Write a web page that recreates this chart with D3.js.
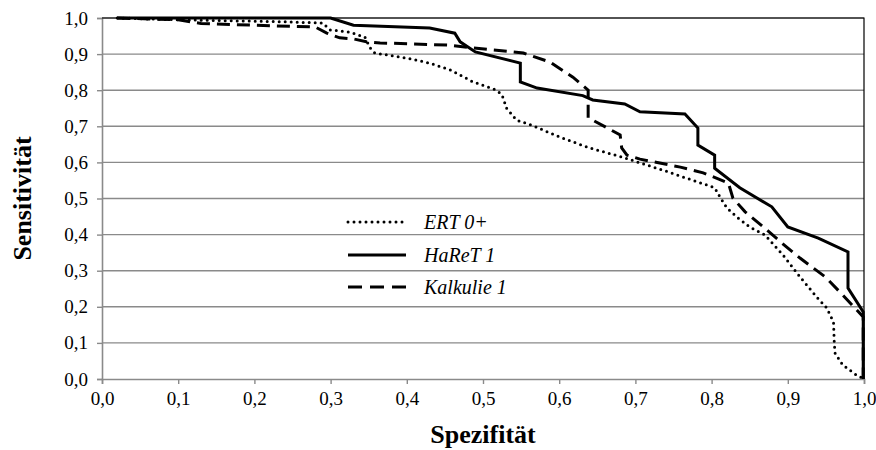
<!DOCTYPE html>
<html>
<head>
<meta charset="utf-8">
<script src="https://cdn.jsdelivr.net/npm/d3@7"></script>
<style>
  html, body { margin: 0; padding: 0; background: #fff; }
  svg { display: block; }
  svg text { font-family: 'Liberation Serif', 'Times New Roman', Times, serif !important; }
</style>
</head>
<body>
<svg id="chart" width="876" height="450"></svg>
<script>
// ROC curves: specificity (x) vs. sensitivity (y)
const seriesNames = ["ERT 0+", "HaReT 1", "Kalkulie 1"];

const ertSpec = [0.02, 0.10, 0.23, 0.29, 0.299, 0.325, 0.345, 0.352, 0.358, 0.40, 0.43, 0.457, 0.487, 0.518, 0.525, 0.531, 0.544, 0.564, 0.601, 0.64, 0.682, 0.741, 0.776, 0.804, 0.811, 0.82, 0.833, 0.85, 0.87, 0.894, 0.916, 0.938, 0.951, 0.96, 0.961, 0.962, 0.972, 0.99, 1.0];
const ertSens = [1.0, 0.995, 0.99, 0.986, 0.967, 0.961, 0.947, 0.917, 0.903, 0.889, 0.875, 0.856, 0.823, 0.80, 0.787, 0.75, 0.717, 0.703, 0.67, 0.64, 0.615, 0.575, 0.55, 0.53, 0.504, 0.474, 0.449, 0.421, 0.399, 0.343, 0.283, 0.227, 0.197, 0.158, 0.10, 0.072, 0.039, 0.011, 0.0];

const haretSpec = [0.02, 0.30, 0.33, 0.43, 0.463, 0.47, 0.49, 0.549, 0.549, 0.571, 0.631, 0.644, 0.686, 0.706, 0.765, 0.782, 0.782, 0.804, 0.804, 0.837, 0.879, 0.90, 0.94, 0.979, 0.979, 0.999, 0.999];
const haretSens = [1.0, 1.0, 0.98, 0.972, 0.958, 0.934, 0.906, 0.875, 0.823, 0.806, 0.785, 0.773, 0.762, 0.74, 0.734, 0.695, 0.648, 0.62, 0.584, 0.53, 0.477, 0.421, 0.39, 0.352, 0.252, 0.186, 0.0];

const kalkSpec = [0.02, 0.10, 0.13, 0.20, 0.28, 0.295, 0.312, 0.33, 0.347, 0.365, 0.453, 0.487, 0.553, 0.588, 0.618, 0.638, 0.638, 0.644, 0.68, 0.682, 0.689, 0.706, 0.759, 0.789, 0.822, 0.828, 0.844, 0.868, 0.892, 0.916, 0.949, 0.972, 0.999, 0.999];
const kalkSens = [1.0, 0.995, 0.985, 0.98, 0.975, 0.958, 0.945, 0.942, 0.934, 0.931, 0.925, 0.917, 0.903, 0.878, 0.836, 0.80, 0.723, 0.717, 0.676, 0.64, 0.62, 0.609, 0.587, 0.571, 0.543, 0.501, 0.463, 0.421, 0.377, 0.335, 0.283, 0.233, 0.172, 0.0];

const tickValues = [0, 0.1, 0.2, 0.3, 0.4, 0.5, 0.6, 0.7, 0.8, 0.9, 1.0];
const xTitle = "Spezifität";
const yTitle = "Sensitivität";

const svg = d3.select("#chart");
const plotLeft = 102, plotRight = 864, plotTop = 18, plotBottom = 379;

const x = d3.scaleLinear().domain([0, 1]).range([plotLeft, plotRight]);
const y = d3.scaleLinear().domain([0, 1]).range([plotBottom, plotTop]);
const fmt = d => d.toFixed(1).replace(".", ",");
const grey = "#8a8a8a";

// horizontal gridlines
svg.append("g").selectAll("line").data(tickValues.slice(1)).join("line")
  .attr("x1", plotLeft).attr("x2", plotRight)
  .attr("y1", d => y(d)).attr("y2", d => y(d))
  .attr("stroke", grey).attr("stroke-width", 1.4);

// y axis
const yAxis = svg.append("g").attr("transform", `translate(${plotLeft},0)`)
  .call(d3.axisLeft(y).tickValues(tickValues).tickFormat(fmt).tickSize(5).tickPadding(9))
  .attr("font-family", null);
yAxis.select(".domain").attr("stroke", grey).attr("stroke-width", 1.6);
yAxis.selectAll(".tick line").attr("stroke", grey).attr("stroke-width", 1.4);
yAxis.selectAll(".tick text").attr("font-size", 19).attr("fill", "#000");

// x axis
const xAxis = svg.append("g").attr("transform", `translate(0,${plotBottom})`)
  .call(d3.axisBottom(x).tickValues(tickValues).tickFormat(fmt).tickSize(5).tickPadding(8))
  .attr("font-family", null);
xAxis.select(".domain").attr("stroke", grey).attr("stroke-width", 1.6);
xAxis.selectAll(".tick line").attr("stroke", grey).attr("stroke-width", 1.4);
xAxis.selectAll(".tick text").attr("font-size", 19).attr("fill", "#000");

// thin frame on top and right of the plot area
svg.append("path")
  .attr("d", `M${plotLeft},${plotTop}H${plotRight}V${plotBottom}`)
  .attr("fill", "none").attr("stroke", "#000").attr("stroke-width", 1.2);

// curves
const styles = [
  { dash: "0,6", width: 3, cap: "round" },
  { dash: null, width: 3, cap: "butt" },
  { dash: "13,7", width: 3, cap: "butt" }
];
const series = [
  ertSpec.map((s, i) => [s, ertSens[i]]),
  haretSpec.map((s, i) => [s, haretSens[i]]),
  kalkSpec.map((s, i) => [s, kalkSens[i]])
];
const line = d3.line().x(d => x(d[0])).y(d => y(d[1]));

series.forEach((pts, i) => {
  svg.append("path")
    .attr("d", line(pts))
    .attr("fill", "none")
    .attr("stroke", "#000")
    .attr("stroke-width", styles[i].width)
    .attr("stroke-linecap", styles[i].cap)
    .attr("stroke-linejoin", "miter")
    .attr("stroke-dasharray", styles[i].dash);
});

// legend
const legendY = [222, 255, 287];
const legend = svg.append("g");
seriesNames.forEach((name, i) => {
  legend.append("line")
    .attr("x1", 348).attr("x2", 406)
    .attr("y1", legendY[i]).attr("y2", legendY[i])
    .attr("stroke", "#000")
    .attr("stroke-width", styles[i].width)
    .attr("stroke-linecap", styles[i].cap)
    .attr("stroke-dasharray", i === 2 ? "14,8" : styles[i].dash);
  legend.append("text")
    .attr("x", 424).attr("y", legendY[i] + 7)
    .attr("font-size", 20).attr("font-style", "italic")
    .text(name);
});

// axis titles
svg.append("text")
  .attr("x", (plotLeft + plotRight) / 2).attr("y", 443)
  .attr("text-anchor", "middle")
  .attr("font-size", 26).attr("font-weight", "bold")
  .text(xTitle);

svg.append("text")
  .attr("transform", `translate(31,${(plotTop + plotBottom) / 2}) rotate(-90)`)
  .attr("text-anchor", "middle")
  .attr("font-size", 26).attr("font-weight", "bold")
  .text(yTitle);
</script>
</body>
</html>
